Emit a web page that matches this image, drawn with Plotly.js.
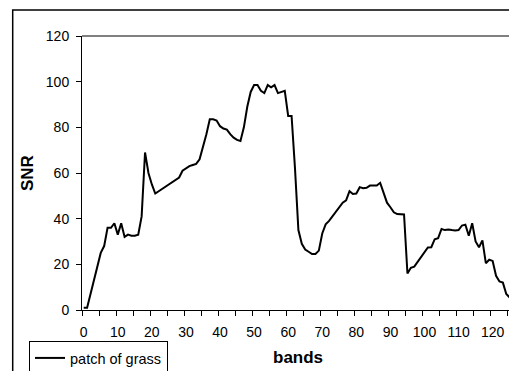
<!DOCTYPE html>
<html>
<head>
<meta charset="utf-8">
<script src="https://cdn.plot.ly/plotly-3.0.1.min.js"></script>
<style>html,body{margin:0;padding:0;background:#fff;}#chart{width:509px;height:371px;}</style>
</head>
<body>
<div id="chart"></div>
<script>
const bands = Array.from({length: 126}, (_, i) => i);
const snrGrass = [
  1, 1, 7, 13, 18, 25, 28, 36, 36, 38,
  33, 38, 32, 33, 32.5, 32.5, 33, 41, 69, 60,
  55, 51, 52, 53, 54, 55, 56, 57, 58, 61,
  62, 63, 63.5, 64, 66, 71, 77, 83.5, 83.5, 83,
  80.5, 79.5, 79, 77, 75.5, 74.5, 74, 80, 89, 95.5,
  98.5, 98.5, 96, 95, 98.5, 97.5, 98.5, 95, 95.5, 96,
  85, 85, 62, 35, 29, 26.5, 25.5, 24.5, 24.5, 26,
  33.5, 37.5, 39, 41, 43.5, 45.5, 47, 48, 52, 50.8,
  51, 53.8, 53.3, 53.5, 54.5, 54.5, 54.5, 55.7, 51, 47,
  45, 42.8, 42, 42, 41.8, 16, 18.5, 19, 21, 23,
  25, 27.4, 27.5, 31, 31.5, 35.5, 35, 35.3, 35, 34.8,
  35, 37, 37.4, 32.5, 38, 30, 27.5, 30.5, 20.5, 22,
  21.5, 15, 12.5, 12, 7, 5.5
];
const xTickVals = [0, 10, 20, 30, 40, 50, 60, 70, 80, 90, 100, 110, 120];
const yTickVals = [0, 20, 40, 60, 80, 100, 120];
const seriesName = 'patch of grass';
const xTitle = 'bands';
const yTitle = 'SNR';

const font = {family: 'Liberation Sans, Arial, sans-serif', color: '#000'};
const f = s => Object.assign({size: s}, font);

Plotly.newPlot('chart', [{
  x: bands, y: snrGrass, type: 'scatter', mode: 'lines', name: seriesName,
  line: {color: '#000', width: 2}, showlegend: true
}], {
  width: 509, height: 371,
  margin: {l: 82, r: 0, t: 36, b: 61, pad: 0, autoexpand: false},
  paper_bgcolor: '#fff', plot_bgcolor: '#fff',
  font: f(14),
  showlegend: true,
  xaxis: {
    range: [-0.5, 124.8], tickmode: 'array', tickvals: xTickVals,
    ticks: '', showgrid: false, zeroline: false, automargin: false,
    showline: true, linecolor: '#000', linewidth: 1,
    tickfont: f(14), ticklabelstandoff: 9,
    minor: {tick0: -0.5, dtick: 5, ticks: 'outside', ticklen: 5, tickcolor: '#000', tickwidth: 1, showgrid: false},
    fixedrange: true
  },
  yaxis: {
    range: [0, 120], tickmode: 'array', tickvals: yTickVals,
    ticks: 'outside', ticklen: 5, tickcolor: '#000', tickwidth: 1,
    showgrid: false, zeroline: false, automargin: false,
    showline: true, linecolor: '#000', linewidth: 1,
    tickfont: f(14), ticklabelstandoff: 4,
    fixedrange: true
  },
  legend: {
    xref: 'container', yref: 'container', x: 29/509, y: 1 - 341/371,
    xanchor: 'left', yanchor: 'top',
    bgcolor: '#fff', bordercolor: '#000', borderwidth: 1,
    font: f(14.5), tracegroupgap: 0, itemwidth: 30
  },
  annotations: [
    {text: '<b>' + yTitle + '</b>', xref: 'paper', yref: 'paper', x: (27 - 82) / 427, y: 0.5, textangle: -90,
     showarrow: false, font: f(17), xanchor: 'center', yanchor: 'middle'},
    {text: '<b>' + xTitle + '</b>', xref: 'paper', yref: 'paper', x: (298 - 82) / 427, y: -(357 - 310) / 274,
     showarrow: false, font: f(17), xanchor: 'center', yanchor: 'middle'}
  ],
  shapes: [
    {type: 'line', xref: 'paper', yref: 'paper', x0: 0, x1: 1, y0: 1, y1: 1, line: {color: '#808080', width: 2}},
    {type: 'rect', xref: 'paper', yref: 'paper', x0: (12.7 - 82) / 427, x1: 1.2, y0: 1 + 26/274, y1: -0.5,
     line: {color: '#000', width: 1.5}, fillcolor: 'rgba(0,0,0,0)', layer: 'below'}
  ]
}, {displayModeBar: false, staticPlot: true});
</script>
</body>
</html>
